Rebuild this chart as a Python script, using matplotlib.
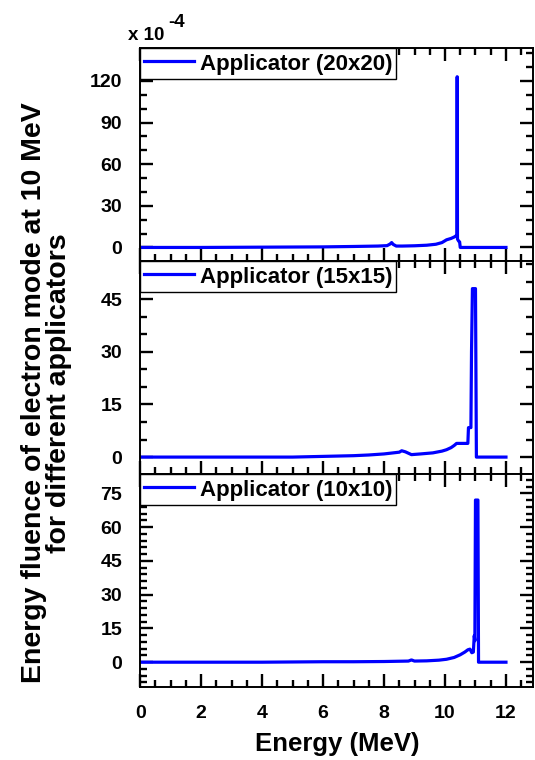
import matplotlib
matplotlib.use('Agg')
import matplotlib.pyplot as plt
from matplotlib.ticker import MultipleLocator

plt.rcParams['font.family'] = ['Liberation Sans', 'DejaVu Sans']
plt.rcParams['font.weight'] = 'bold'

# spectra (values in units of 1e-4)
energy_20 = [0, 2, 4, 6, 7, 7.8, 8.1, 8.2, 8.25, 8.3, 8.4, 8.6, 9.0, 9.4, 9.7, 9.9,
             10.05, 10.2, 10.3, 10.37, 10.39, 10.4, 10.41, 10.45, 10.48, 10.5, 11.0, 12.0]
fluence_20 = [0, 0, 0.2, 0.4, 0.7, 1.0, 1.3, 2.5, 3.5, 2.2, 1.0, 1.0, 1.2, 1.6, 2.3, 3.5,
              5.5, 6.5, 7.5, 8.5, 8.5, 123, 6.0, 4.5, 4.0, 0, 0, 0]

energy_15 = [0, 5, 6, 7, 7.5, 8.0, 8.3, 8.5, 8.58, 8.7, 8.9, 9.2, 9.6, 9.9, 10.05, 10.2,
             10.3, 10.38, 10.75, 10.77, 10.85, 10.87, 10.9, 11.0, 11.03, 12.0]
fluence_15 = [0, 0, 0.2, 0.4, 0.6, 0.9, 1.2, 1.4, 1.8, 1.5, 0.7, 0.9, 1.2, 1.7, 2.1, 2.7,
              3.3, 3.9, 3.9, 8.4, 8.4, 30, 48, 48, 0, 0]

energy_10 = [0, 4, 5, 6, 7, 8, 8.8, 8.9, 9.0, 9.4, 9.8, 10.05, 10.3, 10.5, 10.65, 10.75,
             10.82, 10.88, 10.93, 10.96, 10.98, 11.0, 11.08, 11.1, 12.0]
fluence_10 = [0, 0, 0.1, 0.2, 0.2, 0.3, 0.5, 1.0, 0.5, 0.6, 0.9, 1.3, 2.1, 3.3, 4.5, 5.5,
              5.8, 4.2, 4.5, 11.8, 9.5, 72, 72, 0, 0]

labels = ['Applicator (20x20)', 'Applicator (15x15)', 'Applicator (10x10)']
energies = [energy_20, energy_15, energy_10]
fluences = [fluence_20, fluence_15, fluence_10]
ylims = [(-9.7, 143.8), (-4.8, 55.9), (-11, 83.6)]
ymajor = [30, 15, 15]
yminor = [10, 5, 3]
xticks = [0, 2, 4, 6, 8, 10, 12]

fig = plt.figure(figsize=(5.35, 7.6), dpi=100)
left, width = 0.262, 0.735
h = 0.2803
bottoms = [0.0961 + 2 * h, 0.0961 + h, 0.0961]

for i in range(3):
    ax = fig.add_axes([left, bottoms[i], width, h])
    ax.plot(energies[i], fluences[i], color='#0000ff', lw=2.3, label=labels[i])
    ax.set_xlim(0, 12.9)
    ax.set_ylim(*ylims[i])
    ax.xaxis.set_major_locator(MultipleLocator(2))
    ax.xaxis.set_minor_locator(MultipleLocator(0.5))
    ax.yaxis.set_major_locator(MultipleLocator(ymajor[i]))
    ax.yaxis.set_minor_locator(MultipleLocator(yminor[i]))
    ax.tick_params(which='both', direction='in', top=True, right=True,
                   width=1.7, labelsize=14, pad=13)
    ax.tick_params(which='major', length=9.5)
    ax.tick_params(which='minor', length=5)
    ax.tick_params(axis='x', pad=13)
    for s in ax.spines.values():
        s.set_linewidth(1.4)
    if i < 2:
        ax.set_xticklabels([])
    else:
        ax.set_xticks(xticks)
        ax.set_xlabel('Energy (MeV)', fontsize=18.5, fontweight='bold', labelpad=7)
    leg = ax.legend(loc='upper left', borderaxespad=0, fancybox=False,
                    edgecolor='black', framealpha=1, fontsize=16,
                    handlelength=2.25, handletextpad=0.3, borderpad=0.15,
                    handleheight=1.25)
    leg.get_frame().set_linewidth(1.0)

fig.text(0.086, 0.483, 'Energy fluence of electron mode at 10 MeV\nfor different applicators',
         rotation=90, ha='center', va='center', multialignment='center',
         fontsize=20.5, fontweight='bold', linespacing=0.95)
fig.text(0.239, 0.947, 'x 10', fontsize=13.5, fontweight='bold', ha='left', va='baseline')
fig.text(0.314, 0.964, '-4', fontsize=13.5, fontweight='bold', ha='left', va='baseline')

plt.savefig('out.png', dpi=100)
